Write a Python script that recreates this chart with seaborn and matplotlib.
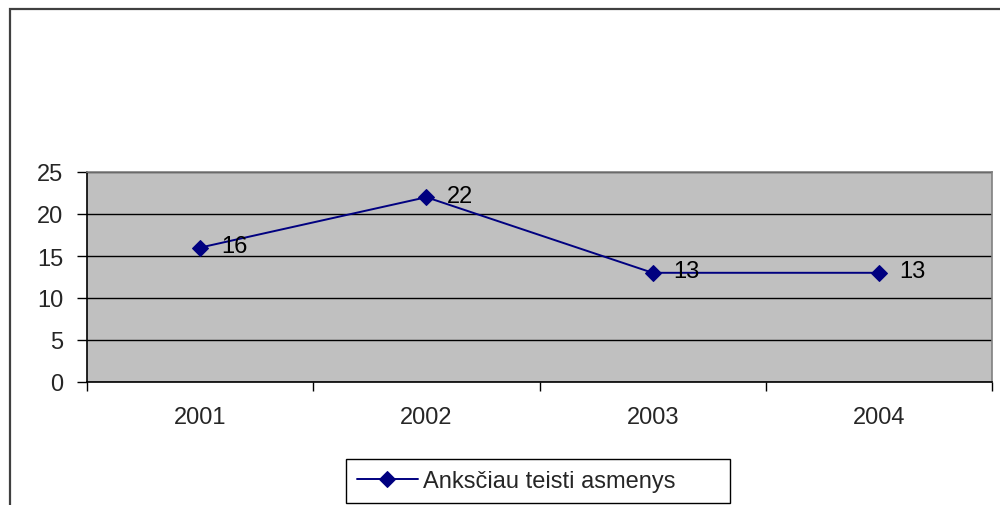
import matplotlib
matplotlib.use("Agg")
import matplotlib.pyplot as plt
import numpy as np
import pandas as pd
import seaborn as sns
from matplotlib.patches import Rectangle
from matplotlib.ticker import FixedLocator

# chart data
years = ["2001", "2002", "2003", "2004"]
counts = [16, 22, 13, 13]
series_name = "Anksčiau teisti asmenys"

sns.set_style("white")
plt.rcParams["font.family"] = ["Liberation Sans", "DejaVu Sans"]

df = pd.DataFrame({"year": years, "count": counts, "series": series_name})

W, H = 1000, 506
FS = 17
fig = plt.figure(figsize=(W / 100, H / 100), dpi=100)
ax = fig.add_axes([87 / W, 1 - 383 / H, (992 - 87) / W, (383 - 173) / H])
ax.set_facecolor("#c0c0c0")

# outer chart border (runs off the right and bottom edges)
fig.patches.append(Rectangle((10 / W, -0.2), 1.2, 1 - 10 / H + 0.2,
                             transform=fig.transFigure, fill=False,
                             edgecolor="#404040", linewidth=1.6, zorder=0))

sns.lineplot(data=df, x="year", y="count", hue="series", palette=["#000080"],
             marker="D", markersize=8, markeredgecolor="#000080",
             linewidth=1.4, ax=ax, legend=True, sort=False)

ax.set_xlim(-0.5, 3.5)
ax.set_ylim(0, 25)
ax.set_yticks(np.arange(0, 26, 5))
ax.yaxis.grid(True, color="black", linewidth=1)
ax.set_axisbelow(True)
ax.set_xlabel("")
ax.set_ylabel("")

for side in ["top", "right"]:
    ax.spines[side].set_color("#808080")
    ax.spines[side].set_linewidth(1.2)
for side in ["left", "bottom"]:
    ax.spines[side].set_color("black")
    ax.spines[side].set_linewidth(1.2)

ax.tick_params(axis="y", direction="out", length=7.2, width=1, color="black",
               labelsize=FS, pad=10, left=True)
ax.tick_params(axis="x", which="major", length=0, labelsize=FS, pad=17)
ax.xaxis.set_minor_locator(FixedLocator(np.arange(-0.5, 4, 1)))
ax.tick_params(axis="x", which="minor", direction="out", length=6.5, width=1,
               color="black", bottom=True)

# data labels to the right of each point
for i, v in enumerate(counts):
    ax.annotate(str(v), (i, v), xytext=(15, 1), textcoords="offset points",
                ha="left", va="center", fontsize=FS, color="black")

leg = ax.get_legend()
handles, labels = ax.get_legend_handles_labels()
leg.remove()
fig.legend(handles, labels, loc="center",
           bbox_to_anchor=(346 / W, 1 - 503 / H, 384 / W, 42 / H), mode="expand",
           frameon=True, fancybox=False, framealpha=1, edgecolor="black",
           fontsize=FS, handlelength=2.6, borderpad=0.45, handletextpad=0.2,
           borderaxespad=0)
fig.legends[0].get_frame().set_linewidth(1)

fig.savefig("out.png", dpi=100)
